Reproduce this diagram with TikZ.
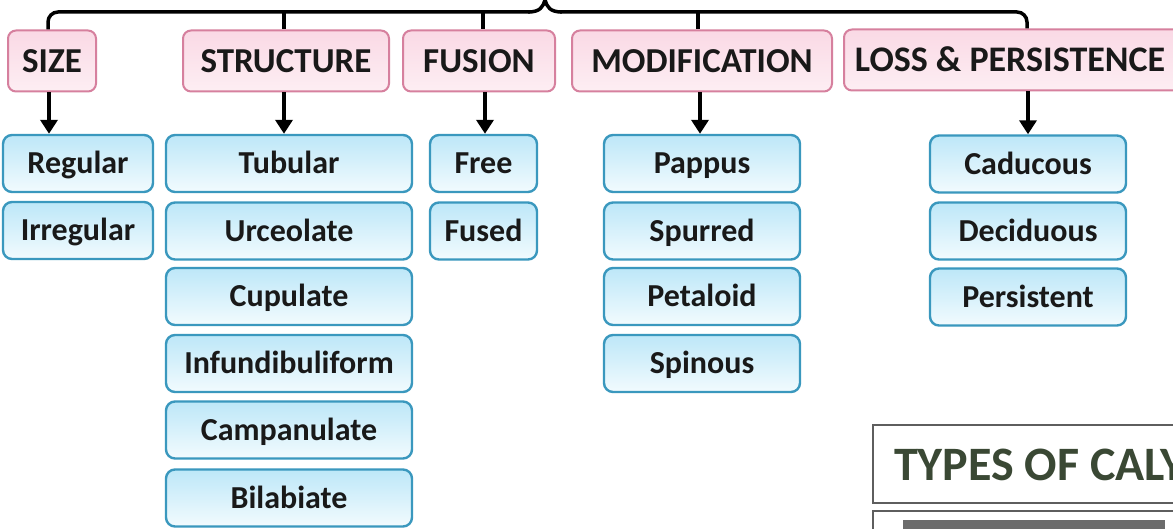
\documentclass[tikz,border=0pt]{standalone}
\usepackage{fontspec}
\setmainfont{Carlito}
\usetikzlibrary{arrows.meta}
\definecolor{bluebd}{HTML}{3A98BE}
\definecolor{bluetop}{HTML}{BDE7F8}
\definecolor{bluebot}{HTML}{F2FBFE}
\definecolor{pinkbd}{HTML}{D6809E}
\definecolor{pinktop}{HTML}{FAD9E5}
\definecolor{pinkbot}{HTML}{FDEEF3}
\definecolor{titlegreen}{HTML}{3A4834}
\definecolor{framegray}{HTML}{5E5E5E}
\definecolor{bargray}{HTML}{6C6C6C}
\tikzset{
  cat/.style={draw=pinkbd, line width=2pt, rounded corners=8pt, top color=pinktop, bottom color=pinkbot,
    minimum height=61pt, inner sep=0pt, text height=22.5pt, text depth=0pt,
    font=\fontsize{35}{40}\selectfont\bfseries, text=black!90},
  item/.style={draw=bluebd, line width=2.4pt, rounded corners=9pt, top color=bluetop, bottom color=bluebot,
    minimum height=57pt, inner sep=0pt, text height=20.5pt, text depth=0pt,
    font=\fontsize{32}{36}\selectfont\bfseries, text=black!90},
  arr/.style={line width=3.5pt, -{Triangle[width=17pt,length=14pt]}},
  brk/.style={line width=3.5pt, rounded corners=10pt},
  frame/.style={draw=framegray, line width=1.8pt, fill=white},
}
\begin{document}
\begin{tikzpicture}[x=1pt,y=-1pt]
\clip (0,0) rectangle (1173,529);
\useasboundingbox (0,0) rectangle (1173,529);
\fill[white] (0,0) rectangle (1173,529);

% category boxes
\node[cat, minimum width=88pt]  (size) at (52,61) {SIZE};
\node[cat, minimum width=206pt] (struct) at (286,61) {STRUCTURE};
\node[cat, minimum width=152pt] (fusion) at (479,61) {FUSION};
\node[cat, minimum width=260pt] (modif) at (702,61) {MODIFICATION};
\node[cat, minimum width=342pt, anchor=west] (loss) at (843,60) {\hspace*{-10pt}\fontsize{36}{40}\selectfont LOSS \& PERSISTENCE};

% bracket
\draw[brk] (size.north -| 48,0) -- (48,12) -- (530,12);
\draw[line width=3.5pt] (528,12) .. controls (540,12) and (543,7) .. (545,0)
  .. controls (547,7) and (550,12) .. (562,12);
\draw[brk] (560,12) -- (1027,12) -- (loss.north -| 1027,0);
\draw[line width=3.5pt] (284,12) -- (struct.north -| 284,0);
\draw[line width=3.5pt] (483,12) -- (fusion.north -| 483,0);
\draw[line width=3.5pt] (698,12) -- (modif.north -| 698,0);

% size column
\node[item, minimum width=150pt] (regular) at (78,163.5) {Regular};
\node[item, minimum width=150pt] (irregular) at (78,230.5) {Irregular};

% structure column
\node[item, minimum width=246pt] (tubular) at (289,163.5) {Tubular};
\node[item, minimum width=246pt] (urceolate) at (289,231) {Urceolate};
\node[item, minimum width=246pt] (cupulate) at (289,296.5) {Cupulate};
\node[item, minimum width=246pt] (infund) at (289,363.5) {Infundibuliform};
\node[item, minimum width=246pt] (campan) at (289,430) {Campanulate};
\node[item, minimum width=246pt] (bilab) at (289,498) {Bilabiate};

% fusion column
\node[item, minimum width=107pt] (free) at (483.5,163.5) {Free};
\node[item, minimum width=107pt] (fused) at (483.5,231) {Fused};

% modification column
\node[item, minimum width=196pt] (pappus) at (702,163.5) {Pappus};
\node[item, minimum width=196pt] (spurred) at (702,231) {Spurred};
\node[item, minimum width=196pt] (petaloid) at (702,296.5) {Petaloid};
\node[item, minimum width=196pt] (spinous) at (702,363.5) {Spinous};

% loss column
\node[item, minimum width=196pt] (caducous) at (1028,164) {Caducous};
\node[item, minimum width=196pt] (deciduous) at (1028,231) {Deciduous};
\node[item, minimum width=196pt] (persistent) at (1028,297) {Persistent};

% arrows
\draw[arr] (size.south -| 49,0) -- (regular.north -| 49,0);
\draw[arr] (struct.south -| 284,0) -- (tubular.north -| 284,0);
\draw[arr] (fusion.south -| 485,0) -- (free.north -| 485,0);
\draw[arr] (modif.south -| 700,0) -- (pappus.north -| 700,0);
\draw[arr] (loss.south -| 1028,0) -- (caducous.north -| 1028,0);

% title panel (cut off at the right)
\draw[frame] (1190,425) -- (873,425) -- (873,503) -- (1190,503);
\node[anchor=base west, inner sep=0pt, text=titlegreen, font=\fontsize{48}{54}\selectfont\bfseries] (title) at (894,480) {TYPES OF CALYX};
\draw[frame] (1190,511) -- (873,511) -- (873,540);
\fill[bargray] (903,520) rectangle (1165,540);
\end{tikzpicture}
\end{document}
